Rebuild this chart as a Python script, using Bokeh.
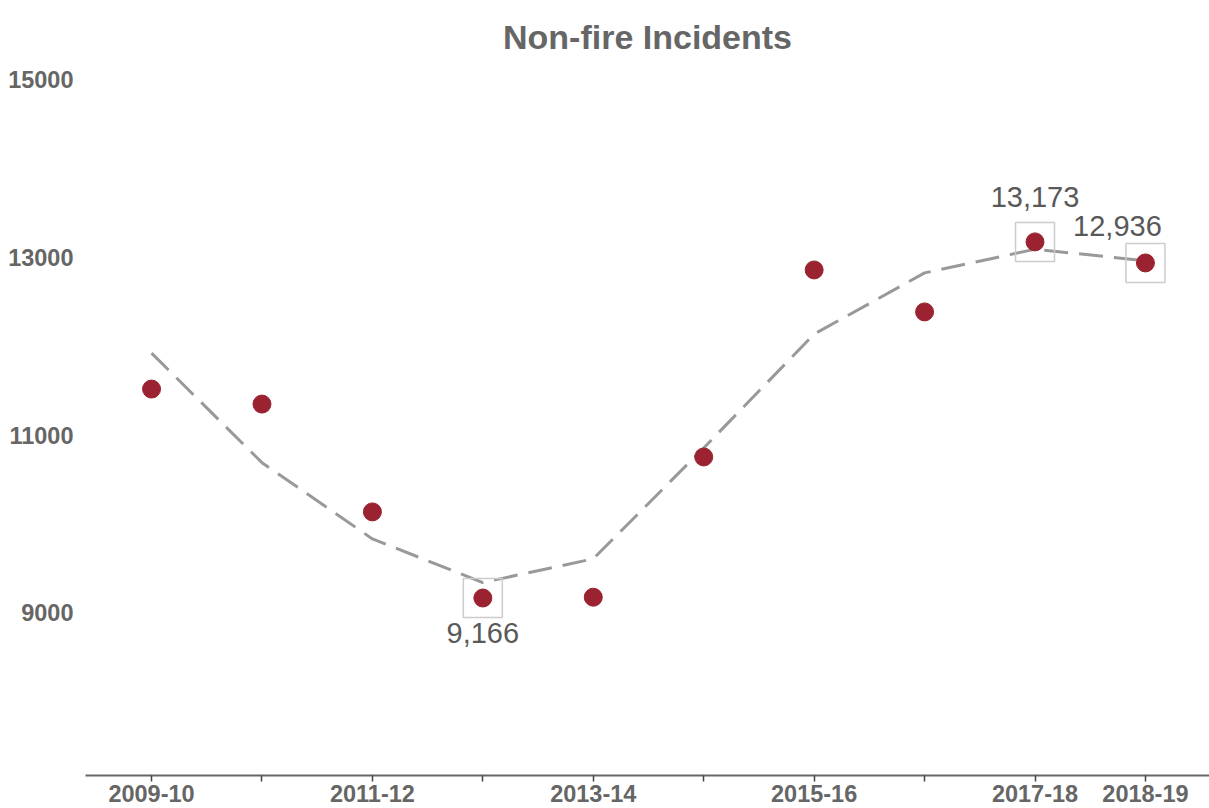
from bokeh.plotting import figure
from bokeh.models import Range1d, FixedTicker, ColumnDataSource
from bokeh.core.properties import value
from bokeh.embed import file_html
from bokeh.resources import INLINE

# ---- data ----
years = ["2009-10", "2010-11", "2011-12", "2012-13", "2013-14",
         "2014-15", "2015-16", "2016-17", "2017-18", "2018-19"]
incidents = [11517, 11348, 10135, 9166, 9175, 10753, 12857, 12385, 13173, 12936]
trend = [11921, 10689, 9831, 9340, 9607, 10854, 12135, 12824, 13090, 12960]
shown_year_labels = ["2009-10", "2011-12", "2013-14", "2015-16", "2017-18", "2018-19"]
y_ticks = [9000, 11000, 13000, 15000]
highlight_years = ["2012-13", "2017-18", "2018-19"]

idx = list(range(len(years)))
hi_idx = [years.index(y) for y in highlight_years]
hi_vals = [incidents[i] for i in hi_idx]
hi_text = [f"{v:,}" for v in hi_vals]
hi_xoff = [0, 0, -28]
hi_yoff = [35, -45, -37]

GREY = "#666666"
FONT = "Liberation Sans"

p = figure(width=1209, height=808, output_backend="svg", toolbar_location=None,
           x_range=Range1d(-0.598, 9.58), y_range=Range1d(7169, 15090),
           min_border_left=85, min_border_right=0, min_border_top=70, min_border_bottom=33)
p.outline_line_color = None
p.xgrid.visible = False
p.ygrid.visible = False
p.background_fill_color = "white"
p.border_fill_color = "white"

p.title.text = "Non-fire Incidents"
p.title.align = "center"
p.title.text_font = FONT
p.title.text_font_size = "34px"
p.title.text_font_style = "bold"
p.title.text_color = GREY
p.title.standoff = 31

# x axis
xa = p.xaxis[0]
xa.ticker = FixedTicker(ticks=idx)
xa.major_label_overrides = {i: (years[i] if years[i] in shown_year_labels else "") for i in idx}
xa.axis_line_color = GREY
xa.axis_line_width = 2
xa.major_tick_line_color = "#444444"
xa.major_tick_line_width = 1.5
xa.major_tick_out = 6
xa.major_tick_in = 0
xa.minor_tick_line_color = None
xa.major_label_standoff = 3
xa.major_label_text_font = FONT
xa.major_label_text_font_size = "23.5px"
xa.major_label_text_font_style = "bold"
xa.major_label_text_color = GREY

# y axis
ya = p.yaxis[0]
ya.ticker = FixedTicker(ticks=y_ticks)
ya.axis_line_color = None
ya.major_tick_line_color = None
ya.minor_tick_line_color = None
ya.major_tick_out = 0
ya.major_tick_in = 0
ya.major_label_standoff = 12
ya.major_label_text_font = FONT
ya.major_label_text_font_size = "23.5px"
ya.major_label_text_font_style = "bold"
ya.major_label_text_color = GREY

# trend line
p.line(idx, trend, line_color="#999999", line_width=3, line_dash="24 11")

# highlight boxes
p.scatter(hi_idx, hi_vals, marker="square", size=39, fill_color=None,
          line_color="#cccccc", line_width=1.5)

# points
p.scatter(idx, incidents, size=18, fill_color="#9b2230", line_color="#9b2230")

# labels
src = ColumnDataSource(dict(x=hi_idx, y=hi_vals, t=hi_text, xo=hi_xoff, yo=hi_yoff))
p.text(x="x", y="y", text="t", x_offset="xo", y_offset="yo", source=src,
       text_align="center", text_baseline="middle", text_font=value(FONT),
       text_font_size="29px", text_color="#595959")

open("out.html", "w").write(file_html(p, INLINE))
